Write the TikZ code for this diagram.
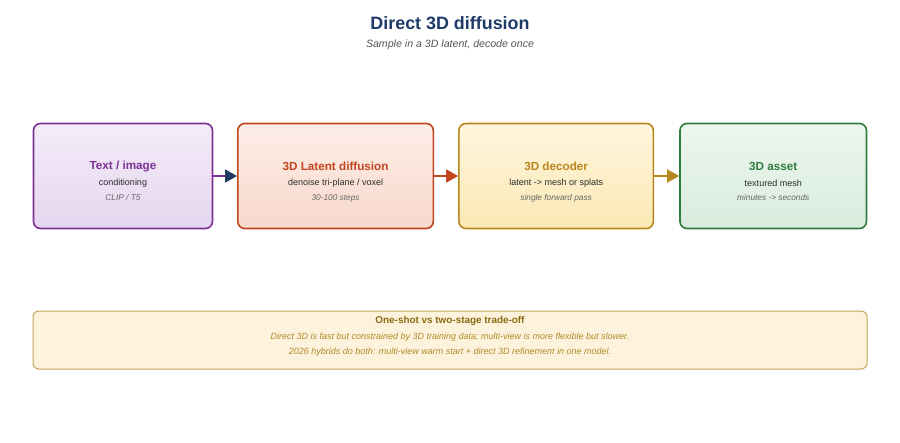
\documentclass[tikz,border=0pt]{standalone}
\usepackage{fontspec}
\setmainfont{Liberation Sans}
\usetikzlibrary{positioning}
\usetikzlibrary{arrows.meta}
\usepackage{xcolor}

\definecolor{navytitle}{HTML}{1F3A66}
\definecolor{subgray}{HTML}{555555}
\definecolor{bodytext}{HTML}{2B2B2B}
\definecolor{notegray}{HTML}{666666}
\definecolor{purpleline}{HTML}{7B3294}
\definecolor{purpletop}{HTML}{F4ECF9}
\definecolor{purplebot}{HTML}{E6D5EF}
\definecolor{redline}{HTML}{C0451F}
\definecolor{redtop}{HTML}{FDEEE8}
\definecolor{redbot}{HTML}{F8D8CB}
\definecolor{goldline}{HTML}{B8861F}
\definecolor{goldtop}{HTML}{FEF6DE}
\definecolor{goldbot}{HTML}{FBE8B4}
\definecolor{greenline}{HTML}{2E7D3F}
\definecolor{greentop}{HTML}{EDF6EF}
\definecolor{greenbot}{HTML}{D8ECDD}
\definecolor{headnavy}{HTML}{1F3A5F}
\definecolor{notefill}{HTML}{FDF3DC}
\definecolor{notestroke}{HTML}{C4A55A}
\definecolor{notetitle}{HTML}{8A6A14}
\definecolor{notetext}{HTML}{B08A2A}

\begin{document}
\begin{tikzpicture}[x=1pt, y=-1pt,
stagenode/.style={rectangle, rounded corners=7pt, line width=1.6pt, minimum height=105pt, inner sep=0pt},
stagetitle/.style={font=\fontsize{11.7}{14}\selectfont\bfseries},
stagesub/.style={font=\fontsize{9}{11}\selectfont, text=bodytext},
stagenote/.style={font=\fontsize{8.3}{10}\selectfont\itshape, text=notegray},
flowarrow/.style={line width=1.8pt},
notetxt/.style={font=\fontsize{9}{11}\selectfont\itshape, text=notetext},
notebox/.style={rectangle, rounded corners=6pt, line width=1pt, draw=notestroke, fill=notefill, minimum width=834pt, minimum height=58pt}]
\useasboundingbox (0,0) rectangle (900,442);

% title
\node[font=\fontsize{17.9}{21}\selectfont\bfseries, text=navytitle] (title) at (450,23) {Direct 3D diffusion};
\node[font=\fontsize{10.6}{12}\selectfont\itshape, text=subgray] (subtitle) at (450,45) {Sample in a 3D latent, decode once};

% stages
\node[stagenode, draw=purpleline, top color=purpletop, bottom color=purplebot, minimum width=179pt] (cond) at (123,176) {};
\node[stagenode, draw=redline, top color=redtop, bottom color=redbot, minimum width=195.5pt] (latent) [right=23.7pt of cond] {};
\node[stagenode, draw=goldline, top color=goldtop, bottom color=goldbot, minimum width=194.5pt] (decoder) [right=24pt of latent] {};
\node[stagenode, draw=greenline, top color=greentop, bottom color=greenbot, minimum width=186.5pt] (asset) [right=25pt of decoder] {};

\node[stagetitle, text=purpleline] (condt) at ([yshift=10pt]cond.center) {Text / image};
\node[stagesub] (conds) at ([yshift=-7pt]cond.center) {conditioning};
\node[stagenote] (condn) at ([yshift=-22pt]cond.center) {CLIP / T5};

\node[stagetitle, text=redline] (latentt) at ([yshift=10pt]latent.center) {3D Latent diffusion};
\node[stagesub] (latents) at ([yshift=-7pt]latent.center) {denoise tri-plane / voxel};
\node[stagenote] (latentn) at ([yshift=-22pt]latent.center) {30-100 steps};

\node[stagetitle, text=goldline] (decodert) at ([yshift=10pt]decoder.center) {3D decoder};
\node[stagesub] (decoders) at ([yshift=-7pt]decoder.center) {latent -> mesh or splats};
\node[stagenote] (decodern) at ([yshift=-22pt]decoder.center) {single forward pass};

\node[stagetitle, text=greenline] (assett) at ([yshift=10pt]asset.center) {3D asset};
\node[stagesub] (assets) at ([yshift=-7pt]asset.center) {textured mesh};
\node[stagenote] (assetn) at ([yshift=-22pt]asset.center) {minutes -> seconds};

\draw[flowarrow, draw=purpleline, -{Triangle[length=12pt, width=13pt, color=headnavy]}] (cond.east) -- (latent.west);
\draw[flowarrow, draw=redline, -{Triangle[length=12pt, width=13pt, color=redline]}] (latent.east) -- (decoder.west);
\draw[flowarrow, draw=goldline, -{Triangle[length=12pt, width=13pt, color=goldline]}] (decoder.east) -- (asset.west);

% trade-off note
\node[notebox] (note) at (450,340) {};
\node[font=\fontsize{9.9}{12}\selectfont\bfseries, text=notetitle] (notet) at (450,321) {One-shot vs two-stage trade-off};
\node[notetxt] (notea) at (450,337) {Direct 3D is fast but constrained by 3D training data; multi-view is more flexible but slower.};
\node[notetxt] (noteb) at (450,352) {2026 hybrids do both: multi-view warm start + direct 3D refinement in one model.};
\end{tikzpicture}
\end{document}
